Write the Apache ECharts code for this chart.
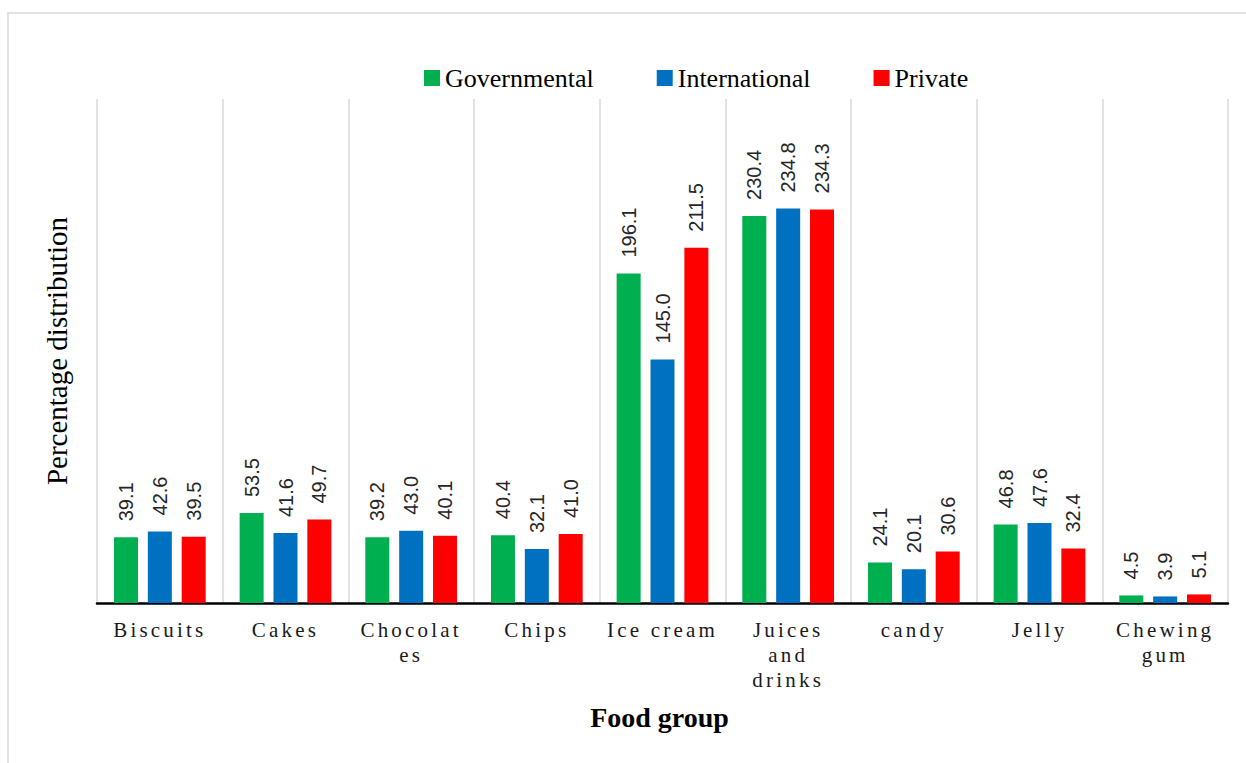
<!DOCTYPE html>
<html>
<head>
<meta charset="utf-8">
<script src="https://cdn.jsdelivr.net/npm/echarts@6/dist/echarts.min.js"></script>
<style>
  html, body { margin: 0; padding: 0; background: #fff; }
  #chart { width: 1246px; height: 763px; }
  /* letter-spaced category labels (unique 21px size) */
  #chart text[style*="21px"] { letter-spacing: 3.2px; }
</style>
</head>
<body>
<div id="chart"></div>
<script>
const categories = ['Biscuits', 'Cakes', 'Chocolates', 'Chips', 'Ice cream', 'Juices and drinks', 'candy', 'Jelly', 'Chewing gum'];
const categoryLabels = ['Biscuits', 'Cakes', 'Chocolat\nes', 'Chips', 'Ice cream', 'Juices\nand\ndrinks', 'candy', 'Jelly', 'Chewing\ngum'];
const seriesNames = ['Governmental', 'International', 'Private'];
const governmental = [39.1, 53.5, 39.2, 40.4, 196.1, 230.4, 24.1, 46.8, 4.5];
const international = [42.6, 41.6, 43.0, 32.1, 145.0, 234.8, 20.1, 47.6, 3.9];
const privateSector = [39.5, 49.7, 40.1, 41.0, 211.5, 234.3, 30.6, 32.4, 5.1];
const colors = ['#00B050', '#0070C0', '#FF0000'];

const chart = echarts.init(document.getElementById('chart'), null, { renderer: 'svg' });

const labelCfg = {
  show: true,
  position: 'top',
  rotate: 90,
  align: 'left',
  verticalAlign: 'middle',
  distance: 16,
  fontFamily: 'Liberation Sans',
  fontSize: 20,
  color: '#262626',
  formatter: p => p.value.toFixed(1)
};

function makeSeries(name, data, color) {
  return {
    name: name,
    type: 'bar',
    data: data,
    barGap: '41%',
    barCategoryGap: '27%',
    itemStyle: { color: color },
    label: labelCfg
  };
}

chart.setOption({
  animation: false,
  backgroundColor: '#ffffff',
  color: colors,
  graphic: [{
    type: 'rect',
    shape: { x: 8, y: 13, width: 1400, height: 900 },
    style: { fill: 'none', stroke: '#d9d9d9', lineWidth: 1.5 },
    silent: true
  }],
  legend: {
    data: seriesNames,
    left: 419,
    top: 60,
    itemWidth: 16,
    itemHeight: 16,
    itemGap: 63,
    icon: 'rect',
    textStyle: { fontFamily: 'Liberation Serif', fontSize: 26, color: '#000000' }
  },
  grid: { left: 97, right: 18, top: 99, bottom: 160 },
  xAxis: {
    type: 'category',
    data: categories,
    name: 'Food group',
    nameLocation: 'middle',
    nameGap: 100,
    nameTextStyle: { fontFamily: 'Liberation Serif', fontSize: 28, fontWeight: 'bold', color: '#000000', padding: [0, 6, 0, 0] },
    axisLine: { show: true, lineStyle: { color: '#000000', width: 2.5 } },
    axisTick: { show: false },
    splitLine: { show: true, lineStyle: { color: '#d9d9d9', width: 1.5 } },
    axisLabel: {
      interval: 0,
      margin: 14,
      fontFamily: 'Liberation Serif',
      fontSize: 21,
      lineHeight: 25,
      color: '#1a1a1a',
      formatter: (v, i) => categoryLabels[i]
    }
  },
  yAxis: {
    type: 'value',
    min: 0,
    max: 300,
    interval: 50,
    name: 'Percentage distribution',
    nameLocation: 'middle',
    nameGap: 26,
    nameTextStyle: { fontFamily: 'Liberation Serif', fontSize: 29, color: '#000000' },
    axisLine: { show: false },
    axisTick: { show: false },
    axisLabel: { show: false },
    splitLine: { show: false }
  },
  series: [
    makeSeries(seriesNames[0], governmental, colors[0]),
    makeSeries(seriesNames[1], international, colors[1]),
    makeSeries(seriesNames[2], privateSector, colors[2])
  ]
});
</script>
</body>
</html>
